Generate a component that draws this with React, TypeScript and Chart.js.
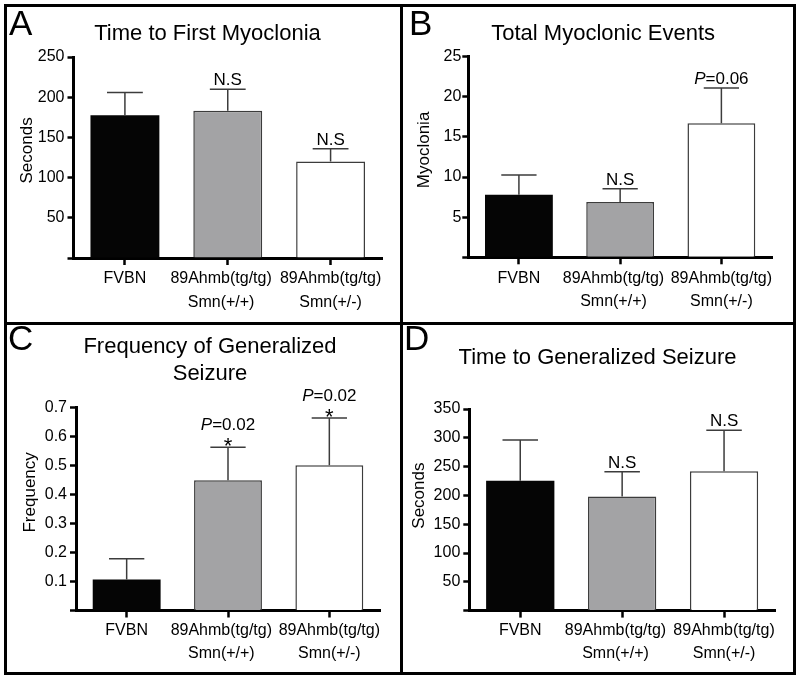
import React, { useEffect, useRef } from 'react';
import { Chart, registerables } from 'chart.js';

Chart.register(...registerables);

const FONT = "'Liberation Sans', Arial, Helvetica, sans-serif";
Chart.defaults.font.family = FONT;
Chart.defaults.color = '#000';

// ---------- data ----------
const categories = ['FVBN', ['89Ahmb(tg/tg)', 'Smn(+/+)'], ['89Ahmb(tg/tg)', 'Smn(+/-)']];
const barFill = ['#050505', '#a3a3a5', '#ffffff'];
const barEdge = ['#050505', '#3c3c3c', '#3c3c3c'];
const barEdgeWidth = [0, 1.5, 1.5];

// A: Time to First Myoclonia
const titleA = 'Time to First Myoclonia';
const yLabelA = 'Seconds';
const meanA = [177.5, 183, 120];
const semA = [28.5, 27, 16];
const notesA = [[], ['N.S'], ['N.S']];
const ticksA = [0, 50, 100, 150, 200, 250];

// B: Total Myoclonic Events
const titleB = 'Total Myoclonic Events';
const yLabelB = 'Myoclonia';
const meanB = [7.8, 6.9, 16.7];
const semB = [2.45, 1.65, 4.4];
const notesB = [[], ['N.S'], ['P=0.06']];
const ticksB = [0, 5, 10, 15, 20, 25];

// C: Frequency of Generalized Seizure
const titleC = ['Frequency of Generalized', 'Seizure'];
const yLabelC = 'Frequency';
const meanC = [0.107, 0.449, 0.5];
const semC = [0.071, 0.113, 0.163];
const notesC = [[], ['*', 'P=0.02'], ['*', 'P=0.02']];
const ticksC = [0, 0.1, 0.2, 0.3, 0.4, 0.5, 0.6, 0.7];

// D: Time to Generalized Seizure
const titleD = 'Time to Generalized Seizure';
const yLabelD = 'Seconds';
const meanD = [225.5, 198, 242];
const semD = [70.5, 43, 71];
const notesD = [[], ['N.S'], ['N.S']];
const ticksD = [0, 50, 100, 150, 200, 250, 300, 350];

// ---------- drawing helpers ----------
function drawNote(ctx: CanvasRenderingContext2D, txt: string, x: number, baseline: number) {
  ctx.textBaseline = 'alphabetic';
  ctx.fillStyle = '#000';
  if (txt.startsWith('P=')) {
    const rest = txt.slice(1);
    ctx.font = `italic 17px ${FONT}`;
    const wP = ctx.measureText('P').width;
    ctx.font = `17px ${FONT}`;
    const wR = ctx.measureText(rest).width;
    const start = x - (wP + wR) / 2;
    ctx.textAlign = 'left';
    ctx.font = `italic 17px ${FONT}`;
    ctx.fillText('P', start, baseline);
    ctx.font = `17px ${FONT}`;
    ctx.fillText(rest, start + wP, baseline);
  } else {
    ctx.font = `17px ${FONT}`;
    ctx.textAlign = 'center';
    ctx.fillText(txt, x, baseline);
  }
}

const errorBarPlugin = {
  id: 'errorBars',
  afterDatasetsDraw(chart: any, _args: any, opts: any) {
    const ctx: CanvasRenderingContext2D = chart.ctx;
    const meta = chart.getDatasetMeta(0);
    const yScale = chart.scales.y;
    const means: number[] = chart.data.datasets[0].data;
    const sems: number[] = opts.sem;
    const notes: string[][] = opts.notes;
    ctx.save();
    meta.data.forEach((bar: any, i: number) => {
      const top = yScale.getPixelForValue(means[i] + sems[i]);
      const half = bar.width * 0.26;
      ctx.strokeStyle = '#3c3c3c';
      ctx.lineWidth = 1.5;
      ctx.beginPath();
      ctx.moveTo(bar.x, bar.y);
      ctx.lineTo(bar.x, top);
      ctx.moveTo(bar.x - half, top);
      ctx.lineTo(bar.x + half, top);
      ctx.stroke();
      let baseline = top - 4;
      (notes[i] || []).forEach((txt) => {
        if (txt === '*') {
          ctx.font = `22px ${FONT}`;
          ctx.textAlign = 'center';
          ctx.textBaseline = 'alphabetic';
          ctx.fillStyle = '#000';
          ctx.fillText('*', bar.x, top + 6);
          baseline = top - 17;
          return;
        }
        drawNote(ctx, txt, bar.x, baseline);
        baseline -= 20;
      });
    });
    ctx.restore();
  },
};

type Layout = {
  x: number; y: number; w: number; h: number;
  padL: number; padR: number; yW: number; xH: number;
  titleTop: number; titleBottom: number; yTitlePad: number; yTitleLift: number;
  yTickPad: number; xTickPad: number;
};

type PanelProps = {
  title: string | string[];
  yLabel: string;
  means: number[];
  sems: number[];
  notes: string[][];
  ticks: number[];
  decimals: number;
  lay: Layout;
};

// the middle category label sits a little left of its bar in the original figure
const MIDDLE_LABEL_NUDGE = '   ';

function Panel({ title, yLabel, means, sems, notes, ticks, decimals, lay }: PanelProps) {
  const ref = useRef<HTMLCanvasElement>(null);
  useEffect(() => {
    const lift = ' '.repeat(lay.yTitleLift);
    const chart = new Chart(ref.current as HTMLCanvasElement, {
      type: 'bar',
      data: {
        labels: categories as any,
        datasets: [
          {
            data: means,
            backgroundColor: barFill,
            borderColor: barEdge,
            borderWidth: barEdgeWidth,
            barPercentage: 0.67,
            categoryPercentage: 1,
          },
        ],
      },
      options: {
        responsive: false,
        animation: false,
        events: [],
        devicePixelRatio: 1,
        layout: { padding: { left: lay.padL, right: lay.padR, top: 0, bottom: 0 } },
        plugins: {
          legend: { display: false },
          tooltip: { enabled: false },
          title: {
            display: true,
            text: title,
            color: '#000',
            fullSize: true,
            font: { size: 22, weight: 'normal', family: FONT, lineHeight: 1.2 },
            padding: { top: lay.titleTop, bottom: lay.titleBottom },
          },
          errorBars: { sem: sems, notes },
        } as any,
        scales: {
          x: {
            type: 'category',
            offset: true,
            z: 1,
            grid: {
              display: true,
              drawOnChartArea: false,
              drawTicks: true,
              tickLength: 7,
              tickWidth: 2.5,
              tickColor: '#000',
              offset: false,
            },
            border: { display: true, color: '#000', width: 3 },
            ticks: {
              color: '#000',
              font: { size: 16, lineHeight: 1.47, family: FONT },
              padding: lay.xTickPad,
              maxRotation: 0,
              autoSkip: false,
              callback: (_v: any, i: number) => {
                const lab = categories[i];
                if (i === 1 && Array.isArray(lab)) return lab.map((s) => s + MIDDLE_LABEL_NUDGE);
                return lab;
              },
            },
            afterFit: (s: any) => { s.height = lay.xH; },
          },
          y: {
            min: ticks[0],
            max: ticks[ticks.length - 1],
            z: 1,
            grid: {
              display: true,
              drawOnChartArea: false,
              drawTicks: true,
              tickLength: 6,
              tickWidth: 2.5,
              tickColor: '#000',
            },
            border: { display: true, color: '#000', width: 3 },
            ticks: {
              color: '#000',
              font: { size: 16, family: FONT },
              padding: lay.yTickPad,
              callback: (v: any) => (Number(v) === 0 ? '' : Number(v).toFixed(decimals)),
            },
            afterBuildTicks: (s: any) => { s.ticks = ticks.map((v) => ({ value: v })); },
            afterFit: (s: any) => { s.width = lay.yW; },
            title: {
              display: true,
              text: lift + yLabel,
              color: '#000',
              font: { size: 17, family: FONT, lineHeight: 1.2 },
              padding: { top: lay.yTitlePad, bottom: 0 },
            },
          },
        },
      } as any,
      plugins: [errorBarPlugin as any],
    });
    return () => chart.destroy();
  }, []);
  return (
    <canvas
      ref={ref}
      width={lay.w}
      height={lay.h}
      style={{ position: 'absolute', left: lay.x, top: lay.y, width: lay.w, height: lay.h }}
    />
  );
}

const layA: Layout = { x: 0, y: 0, w: 390, h: 323, padL: 33, padR: 8, yW: 40.5, xH: 65, titleTop: 20.7, titleBottom: 9.9, yTitlePad: -15.5, yTitleLift: 3, yTickPad: 3, xTickPad: 2 };
const layB: Layout = { x: 401, y: 0, w: 379, h: 323, padL: 33.3, padR: 8, yW: 34, xH: 65.7, titleTop: 20.7, titleBottom: 9.6, yTitlePad: -19.8, yTitleLift: 3, yTickPad: 1, xTickPad: 2.5 };
const layC: Layout = { x: 0, y: 323, w: 388, h: 355, padL: 40, padR: 8, yW: 36, xH: 67.5, titleTop: 11, titleBottom: 20.5, yTitlePad: -20, yTitleLift: 7, yTickPad: 3, xTickPad: 1 };
const layD: Layout = { x: 401, y: 323, w: 382, h: 355, padL: 19, padR: 8, yW: 49.3, xH: 67.4, titleTop: 21.3, titleBottom: 38.3, yTitlePad: -10.5, yTitleLift: 6, yTickPad: 3, xTickPad: 1 };

const line = (left: number, top: number, width: number, height: number) => (
  <div style={{ position: 'absolute', left, top, width, height, background: '#000' }} />
);

const letterStyle = (left: number, top: number): React.CSSProperties => ({
  position: 'absolute', left, top, fontFamily: FONT, fontSize: 35, lineHeight: '35px', color: '#000',
});

export default function App() {
  return (
    <div style={{ position: 'absolute', left: 0, top: 0, width: 800, height: 678, background: '#fff', overflow: 'hidden' }}>
      <Panel title={titleA} yLabel={yLabelA} means={meanA} sems={semA} notes={notesA} ticks={ticksA} decimals={0} lay={layA} />
      <Panel title={titleB} yLabel={yLabelB} means={meanB} sems={semB} notes={notesB} ticks={ticksB} decimals={0} lay={layB} />
      <Panel title={titleC} yLabel={yLabelC} means={meanC} sems={semC} notes={notesC} ticks={ticksC} decimals={1} lay={layC} />
      <Panel title={titleD} yLabel={yLabelD} means={meanD} sems={semD} notes={notesD} ticks={ticksD} decimals={0} lay={layD} />
      <div style={letterStyle(9, 5.4)}>A</div>
      <div style={letterStyle(409, 5.4)}>B</div>
      <div style={letterStyle(8, 320.4)}>C</div>
      <div style={letterStyle(404, 320.4)}>D</div>
      {line(4, 4, 792, 3)}
      {line(4, 672, 792, 3)}
      {line(4, 4, 3, 671)}
      {line(793, 4, 3, 671)}
      {line(400, 4, 3, 671)}
      {line(4, 322, 792, 3)}
    </div>
  );
}
